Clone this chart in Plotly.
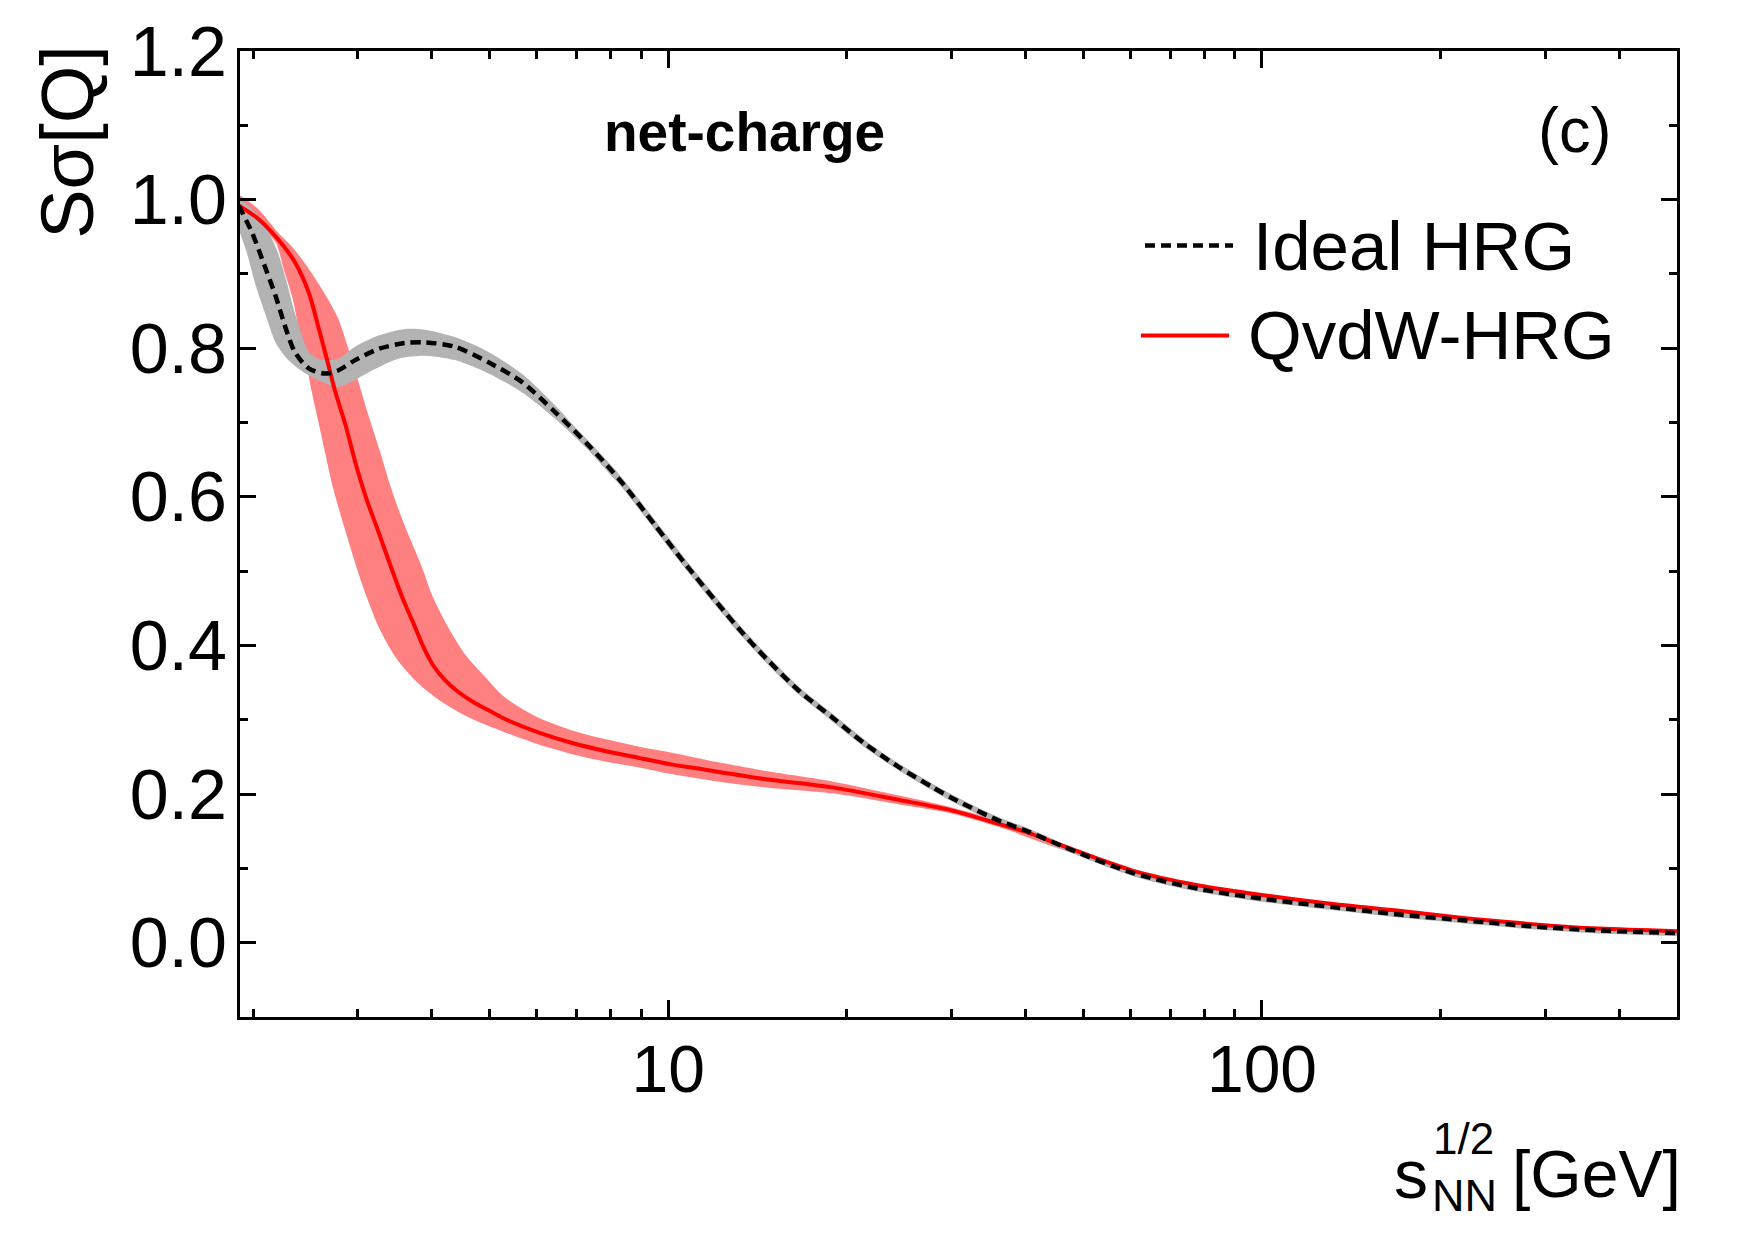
import plotly.graph_objects as go

# ---------------- data ----------------
ideal_x = [1.89, 1.99, 2.09, 2.18, 2.26, 2.35, 2.48, 2.64, 2.78, 2.97, 3.25, 3.60, 3.89, 4.37,
           4.98, 5.66, 6.45, 7.33, 8.34, 9.50, 10.8, 12.1, 13.3, 14.6, 16.6, 18.9, 21.5, 24.5,
           27.9, 30.5, 36.1, 40.0, 46.7, 60.5, 78.3, 101.5, 131.4, 170.1, 220.0, 285.0, 369.5, 500.0]
ideal_y = [0.992, 0.956, 0.911, 0.871, 0.831, 0.795, 0.773, 0.766, 0.770, 0.784, 0.799, 0.807,
           0.808, 0.802, 0.781, 0.755, 0.714, 0.670, 0.620, 0.562, 0.505, 0.457, 0.418, 0.383,
           0.339, 0.303, 0.267, 0.236, 0.209, 0.192, 0.164, 0.151, 0.128, 0.094, 0.0725, 0.0585,
           0.048, 0.038, 0.030, 0.022, 0.0165, 0.013]

ideal_band_up_x = [1.89, 1.99, 2.11, 2.20, 2.27, 2.34, 2.41, 2.48, 2.61, 2.78, 2.97, 3.25, 3.60,
                   3.89, 4.37, 4.98, 5.66, 6.45, 7.33, 8.34]
ideal_band_up_y = [1.001, 0.987, 0.960, 0.929, 0.893, 0.853, 0.820, 0.795, 0.784, 0.786, 0.802,
                   0.817, 0.826, 0.825, 0.815, 0.795, 0.766, 0.723, 0.674, 0.625]
ideal_band_lo_x = [1.89, 1.95, 2.02, 2.10, 2.18, 2.28, 2.45, 2.61, 2.78, 2.93, 3.17, 3.51, 3.89,
                   4.37, 4.98, 5.66, 6.45, 7.33, 8.34]
ideal_band_lo_y = [0.960, 0.929, 0.884, 0.844, 0.808, 0.786, 0.766, 0.755, 0.748, 0.755, 0.770,
                   0.786, 0.790, 0.784, 0.766, 0.741, 0.705, 0.663, 0.616]

qvdw_x = [1.89, 2.04, 2.20, 2.35, 2.48, 2.57, 2.66, 2.75, 2.86, 2.97, 3.10, 3.25, 3.40, 3.56,
          3.74, 3.88, 4.02, 4.20, 4.42, 4.67, 5.00, 5.31, 6.04, 6.87, 7.82, 8.90, 10.1, 11.3,
          12.1, 14.6, 18.9, 24.5, 30.0, 36.0, 40.0, 46.7, 60.5, 78.3, 101.5, 131.4, 170.1,
          220.0, 285.0, 369.5, 500.0]
qvdw_y = [0.992, 0.974, 0.947, 0.916, 0.875, 0.831, 0.786, 0.741, 0.697, 0.647, 0.598, 0.553,
          0.509, 0.466, 0.426, 0.396, 0.373, 0.354, 0.338, 0.325, 0.312, 0.301, 0.283, 0.269,
          0.258, 0.249, 0.240, 0.234, 0.230, 0.220, 0.209, 0.192, 0.178, 0.160, 0.149, 0.129,
          0.097, 0.077, 0.0635, 0.052, 0.043, 0.033, 0.025, 0.019, 0.0155]

qvdw_band_up_x = [1.89, 2.04, 2.20, 2.34, 2.48, 2.65, 2.78, 2.88, 3.02, 3.14, 3.27, 3.40, 3.56,
                  3.75, 3.87, 4.00, 4.25, 4.55, 4.90, 5.31, 6.04, 6.87, 7.82, 8.90, 10.1, 12.1,
                  14.6, 18.9, 24.5, 30.0, 36.0, 45.0, 55.0, 60.5]
qvdw_band_up_y = [1.007, 0.987, 0.956, 0.934, 0.907, 0.871, 0.840, 0.804, 0.750, 0.705, 0.661,
                  0.616, 0.571, 0.527, 0.500, 0.468, 0.426, 0.388, 0.359, 0.330, 0.303, 0.286,
                  0.274, 0.264, 0.256, 0.243, 0.231, 0.217, 0.198, 0.182, 0.164, 0.136, 0.111, 0.099]
qvdw_band_lo_x = [1.89, 2.04, 2.18, 2.25, 2.33, 2.38, 2.45, 2.51, 2.575, 2.64, 2.71, 2.785, 2.895,
                  3.00, 3.11, 3.27, 3.48, 3.76, 4.14, 4.62, 5.31, 6.04, 6.87, 7.82, 8.90, 10.1,
                  12.1, 14.6, 18.9, 24.5, 30.0, 36.0, 45.0, 55.0, 60.5]
qvdw_band_lo_y = [0.985, 0.966, 0.943, 0.907, 0.867, 0.831, 0.786, 0.741, 0.701, 0.661, 0.620,
                  0.585, 0.540, 0.500, 0.464, 0.421, 0.383, 0.352, 0.325, 0.303, 0.283, 0.267,
                  0.254, 0.244, 0.236, 0.227, 0.217, 0.209, 0.201, 0.186, 0.174, 0.156, 0.128,
                  0.105, 0.095]

y_tick_vals = [0.0, 0.2, 0.4, 0.6, 0.8, 1.0, 1.2]
y_tick_text = ["0.0", "0.2", "0.4", "0.6", "0.8", "1.0", "1.2"]
x_tick_vals = [10, 100]
x_tick_text = ["10", "100"]
legend_names = ["Ideal HRG", "QvdW-HRG"]

# ---------------- layout geometry ----------------
W, H = 1757, 1240
ML, MR, MT, MB = 240, 80, 49, 223
PL, PR, PT, PB = ML, W - MR, MT, H - MB


def pxx(px):
    return (px - PL) / (PR - PL)


def pxy(py):
    return (PB - py) / (PB - PT)


FONT = "Liberation Sans, Arial, Helvetica, sans-serif"
PINK = "#ff8080"
GRAY = "#b3b3b3"
RED = "#ff0000"
SMOOTH = 0.8

fig = go.Figure()

# QvdW uncertainty band
fig.add_trace(go.Scatter(
    x=qvdw_band_up_x + qvdw_band_lo_x[::-1],
    y=qvdw_band_up_y + qvdw_band_lo_y[::-1],
    mode="lines", fill="toself", fillcolor=PINK,
    line=dict(width=0, color=PINK, shape="spline", smoothing=SMOOTH),
    hoverinfo="skip", showlegend=False))

# Ideal HRG band
fig.add_trace(go.Scatter(
    x=ideal_band_up_x + ideal_band_lo_x[::-1],
    y=ideal_band_up_y + ideal_band_lo_y[::-1],
    mode="lines", fill="toself", fillcolor=GRAY,
    line=dict(width=0, color=GRAY, shape="spline", smoothing=SMOOTH),
    hoverinfo="skip", showlegend=False))
fig.add_trace(go.Scatter(x=ideal_x, y=ideal_y, mode="lines",
                         line=dict(color=GRAY, width=6, shape="spline", smoothing=SMOOTH),
                         hoverinfo="skip", showlegend=False))

# central lines
fig.add_trace(go.Scatter(x=qvdw_x, y=qvdw_y, mode="lines", name=legend_names[1],
                         line=dict(color=RED, width=4, shape="spline", smoothing=SMOOTH),
                         showlegend=False))
fig.add_trace(go.Scatter(x=ideal_x, y=ideal_y, mode="lines", name=legend_names[0],
                         line=dict(color="black", width=4.5, dash="10px,6px",
                                   shape="spline", smoothing=SMOOTH),
                         showlegend=False))

axis_common = dict(showline=True, linecolor="black", linewidth=3, mirror="ticks",
                   ticks="inside", tickcolor="black", tickwidth=3, showgrid=False,
                   zeroline=False)

fig.update_xaxes(type="log", range=[0.278754, 2.69897], tickmode="array",
                 tickvals=x_tick_vals, ticktext=x_tick_text, ticklen=17,
                 ticklabelstandoff=-7,
                 tickfont=dict(family=FONT, size=66, color="black"),
                 minor=dict(ticks="inside", ticklen=8, tickwidth=3, tickcolor="black",
                            dtick="D1", showgrid=False),
                 **axis_common)
fig.update_yaxes(range=[-0.1, 1.2], tickmode="array", tickvals=y_tick_vals,
                 ticktext=y_tick_text, ticklen=16, ticklabelstandoff=-4,
                 tickfont=dict(family=FONT, size=70, color="black"),
                 minor=dict(ticks="inside", ticklen=8, tickwidth=3, tickcolor="black",
                            dtick=0.1, tick0=0, showgrid=False),
                 **axis_common)

annotations = [
    dict(text="Sσ[Q]", x=pxx(68), y=pxy(140), textangle=-90,
         font=dict(family=FONT, size=74, color="black")),
    dict(text="<b>net-charge</b>", x=pxx(744), y=pxy(130),
         font=dict(family=FONT, size=55, color="black")),
    dict(text="(c)", x=pxx(1574), y=pxy(128),
         font=dict(family=FONT, size=63, color="black")),
    dict(text=legend_names[0], x=pxx(1251), y=pxy(245), xanchor="left",
         font=dict(family=FONT, size=69, color="black")),
    dict(text=legend_names[1], x=pxx(1246), y=pxy(334), xanchor="left",
         font=dict(family=FONT, size=69, color="black")),
    dict(text="[GeV]", x=pxx(1683), y=pxy(1174), xanchor="right",
         font=dict(family=FONT, size=66, color="black")),
    dict(text="s", x=pxx(1392), y=pxy(1174), xanchor="left",
         font=dict(family=FONT, size=68, color="black")),
    dict(text="1/2", x=pxx(1431), y=pxy(1139), xanchor="left",
         font=dict(family=FONT, size=44, color="black")),
    dict(text="NN", x=pxx(1430), y=pxy(1196), xanchor="left",
         font=dict(family=FONT, size=45, color="black")),
]
for a in annotations:
    a.setdefault("xanchor", "center")
    a.setdefault("yanchor", "middle")
    a.update(xref="paper", yref="paper", showarrow=False)

shapes = [
    dict(type="line", xref="paper", yref="paper", x0=pxx(1145), x1=pxx(1233),
         y0=pxy(244), y1=pxy(244), line=dict(color="black", width=4.5, dash="10px,6px")),
    dict(type="line", xref="paper", yref="paper", x0=pxx(1141), x1=pxx(1229),
         y0=pxy(334), y1=pxy(334), line=dict(color=RED, width=4)),
]

fig.update_layout(width=W, height=H, autosize=False,
                  margin=dict(l=ML, r=MR, t=MT, b=MB, pad=0),
                  paper_bgcolor="white", plot_bgcolor="white",
                  showlegend=False, annotations=annotations, shapes=shapes,
                  font=dict(family=FONT, color="black"))

fig.write_html("out.html")
